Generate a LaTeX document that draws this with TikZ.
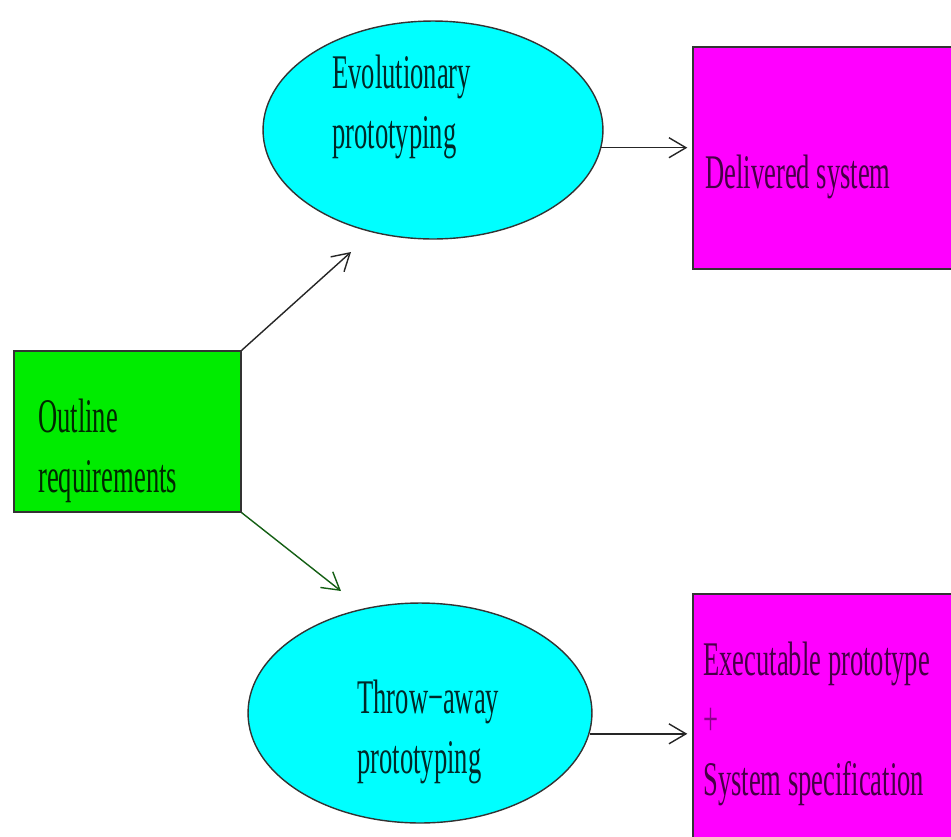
\documentclass[tikz,border=0pt]{standalone}
\usepackage{fontspec}
\setmainfont{Liberation Serif}[FakeStretch=0.55]
\usepackage{xcolor}
\usetikzlibrary{shapes.geometric, arrows.meta}

\definecolor{reqgreen}{RGB}{0,236,0}
\definecolor{protocyan}{RGB}{0,255,255}
\definecolor{sysmagenta}{RGB}{255,0,255}
\definecolor{greentext}{RGB}{0,40,0}
\definecolor{cyantext}{RGB}{0,40,40}
\definecolor{magentatext}{RGB}{70,0,70}
\definecolor{pluspurple}{RGB}{140,0,140}
\definecolor{arrowgreen}{RGB}{20,95,20}

\tikzset{
  stagebox/.style={draw=black!80, line width=0.8pt, rectangle, inner sep=0pt},
  protoball/.style={draw=black!80, line width=0.8pt, ellipse, fill=protocyan, inner sep=0pt},
  lbl/.style={anchor=base west, align=left, inner sep=0pt},
  flow/.style={draw=black!85, line width=0.8pt, -{Straight Barb[length=3.4mm, width=4mm]}}
}

\begin{document}
\begin{tikzpicture}[x=0.02cm, y=-0.02cm, every node/.style={font=\fontsize{27.5}{34.1}\selectfont}]
\useasboundingbox (0,0) rectangle (951,836);
% shapes
\node[stagebox, fill=reqgreen, minimum width=4.54cm, minimum height=3.22cm] (outline) at (127.5,431.5) {};
\node[protoball, minimum width=6.8cm, minimum height=4.36cm] (evo) at (433,130) {};
\node[protoball, minimum width=6.88cm, minimum height=4.4cm] (throw) at (420,713) {};
\node[stagebox, fill=sysmagenta, minimum width=5.34cm, minimum height=4.44cm] (delivered) at (826.5,158) {};
\node[stagebox, fill=sysmagenta, minimum width=5.34cm, minimum height=5.12cm] (executable) at (826.5,722) {};
% texts (base anchor sits on the last line)
\node[lbl, text=greentext] (outlinetxt) at (38,492) {Outline\\requirements};
\node[lbl, text=cyantext] (evotxt) at (332,148) {Evolutionary\\prototyping};
\node[lbl, text=cyantext] (throwtxt) at (357,773) {Throw−away\\prototyping};
\node[lbl, text=magentatext] (deliveredtxt) at (705,188) {Delivered system};
\node[lbl, text=magentatext] (executabletxt) at (703,795) {Executable prototype\\{\color{pluspurple}+}\\System specification};
% arrows
\coordinate (evoin) at (351,252);
\coordinate (throwin) at (341,591);
\draw[flow] (outline.north east) -- (evoin);
\draw[flow, draw=arrowgreen] (outline.south east) -- (throwin);
\draw[flow, shorten >=0.1cm] (evo.-6.5) -- (evo.-6.5 -| delivered.west);
\draw[flow, shorten >=0.1cm] (throw.-7) -- (throw.-7 -| executable.west);
\end{tikzpicture}
\end{document}
